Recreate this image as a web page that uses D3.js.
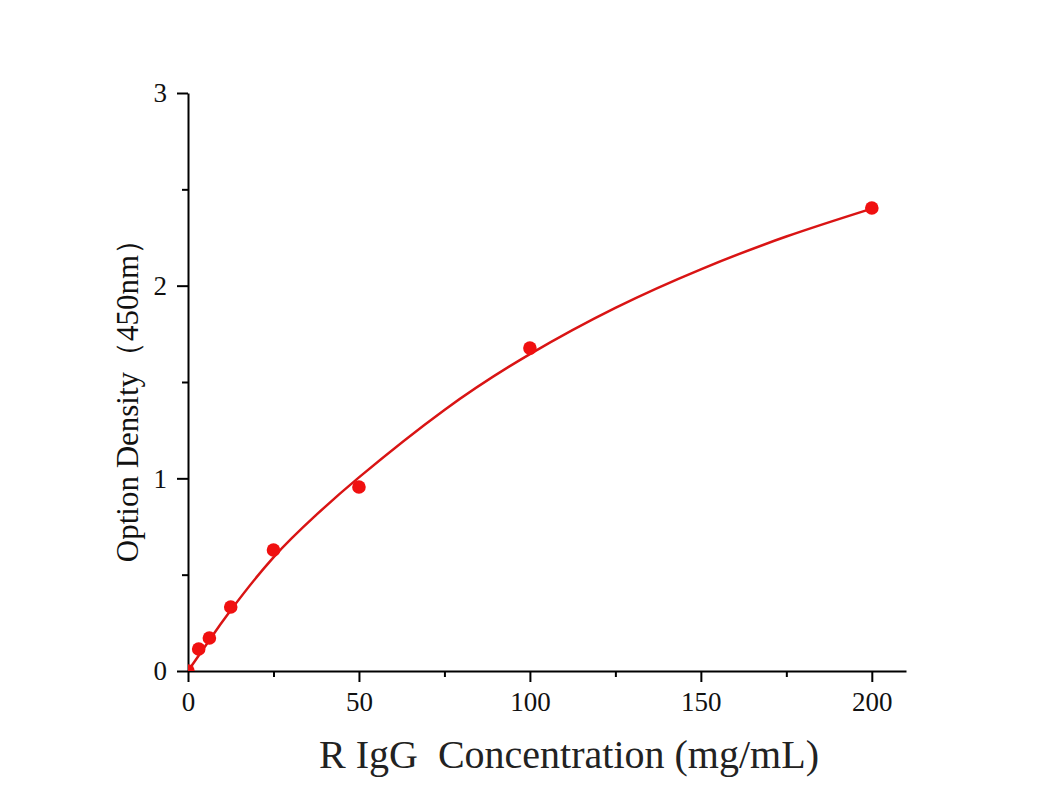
<!DOCTYPE html>
<html><head><meta charset="utf-8">
<script src="https://cdn.jsdelivr.net/npm/d3@7"></script>
<style>body{margin:0;background:#fff}svg{display:block}</style>
</head><body>
<script>
// measured standards
const conc = [0, 3.125, 6.25, 12.5, 25, 50, 100, 200];
const od   = [0, 0.114, 0.171, 0.332, 0.628, 0.955, 1.676, 2.403];
// fitted curve
const fitX = [0, 6.25, 12.5, 25, 37.5, 50, 75, 100, 125, 150, 175, 200];
const fitY = [0, 0.16, 0.315, 0.59, 0.81, 1.005, 1.355, 1.645, 1.885, 2.085, 2.255, 2.40];
const xMajor = [0, 50, 100, 150, 200];
const xMinor = [25, 75, 125, 175];
const yMajor = [0, 1, 2, 3];
const yMinor = [0.5, 1.5, 2.5];
const xTitle = "R IgG  Concentration (mg/mL)";
const yTitle = "Option Density（450nm）";

const W = 1054, H = 806;
const svg = d3.select("body").append("svg").attr("width", W).attr("height", H);
const x = d3.scaleLinear().domain([0, 210]).range([188, 906]);
const y = d3.scaleLinear().domain([0, 3]).range([671, 93]);
const serif = "'Liberation Serif','Times New Roman',serif";

svg.append("defs").append("clipPath").attr("id","clip")
  .append("rect").attr("x", x(0)).attr("y", y(3)-10).attr("width", x(210)-x(0)+10).attr("height", y(0)-y(3)+10);

// axes
const xAxis = d3.axisBottom(x).tickValues(xMajor).tickSize(11).tickFormat(d3.format("d"));
const xAxisMinor = d3.axisBottom(x).tickValues(xMinor).tickSize(6).tickFormat("");
const yAxis = d3.axisLeft(y).tickValues(yMajor).tickSize(11).tickFormat(d3.format("d"));
const yAxisMinor = d3.axisLeft(y).tickValues(yMinor).tickSize(6).tickFormat("");

function style(g){
  g.select(".domain").attr("stroke","#000").attr("stroke-width",2);
  g.selectAll(".tick line").attr("stroke","#000").attr("stroke-width",2);
  g.selectAll(".tick text").attr("fill","#111").style("font-family", serif).style("font-size","27px");
}
svg.append("g").attr("transform",`translate(0,${y(0)})`).call(xAxisMinor).call(g=>{g.select(".domain").remove();g.selectAll(".tick line").attr("stroke","#000").attr("stroke-width",2);});
svg.append("g").attr("transform",`translate(${x(0)},0)`).call(yAxisMinor).call(g=>{g.select(".domain").remove();g.selectAll(".tick line").attr("stroke","#000").attr("stroke-width",2);});
const gx = svg.append("g").attr("transform",`translate(0,${y(0)})`).call(xAxis.tickSizeOuter(0)).call(style);
gx.selectAll(".tick text").attr("dy", null).attr("y", 40);
const gy = svg.append("g").attr("transform",`translate(${x(0)},0)`).call(yAxis.tickSizeOuter(0)).call(style);
gy.selectAll(".tick text").attr("x", -21).attr("dy","0.33em");

// curve
const fit = fitX.map((v,i)=>[v, fitY[i]]);
svg.append("path").datum(fit)
  .attr("clip-path","url(#clip)")
  .attr("fill","none").attr("stroke","#d91414").attr("stroke-width",2.5)
  .attr("d", d3.line().x(d=>x(d[0])).y(d=>y(d[1])).curve(d3.curveNatural));

// points
svg.append("g").attr("clip-path","url(#clip)").selectAll("circle").data(conc.map((v,i)=>[v, od[i]]))
  .join("circle").attr("cx", d=>x(d[0])).attr("cy", d=>y(d[1])).attr("r", 6.8).attr("fill","#f01010");

// titles
svg.append("text").attr("x", 569).attr("y", 768).attr("text-anchor","middle")
  .attr("xml:space","preserve").style("white-space","pre")
  .style("font-family", serif).style("font-size","40px").attr("fill","#222").text(xTitle);
svg.append("text").attr("transform","translate(138,393) rotate(-90)").attr("text-anchor","middle")
  .style("font-family", serif).style("font-size","31px").attr("fill","#111").text(yTitle);
</script>
</body></html>
